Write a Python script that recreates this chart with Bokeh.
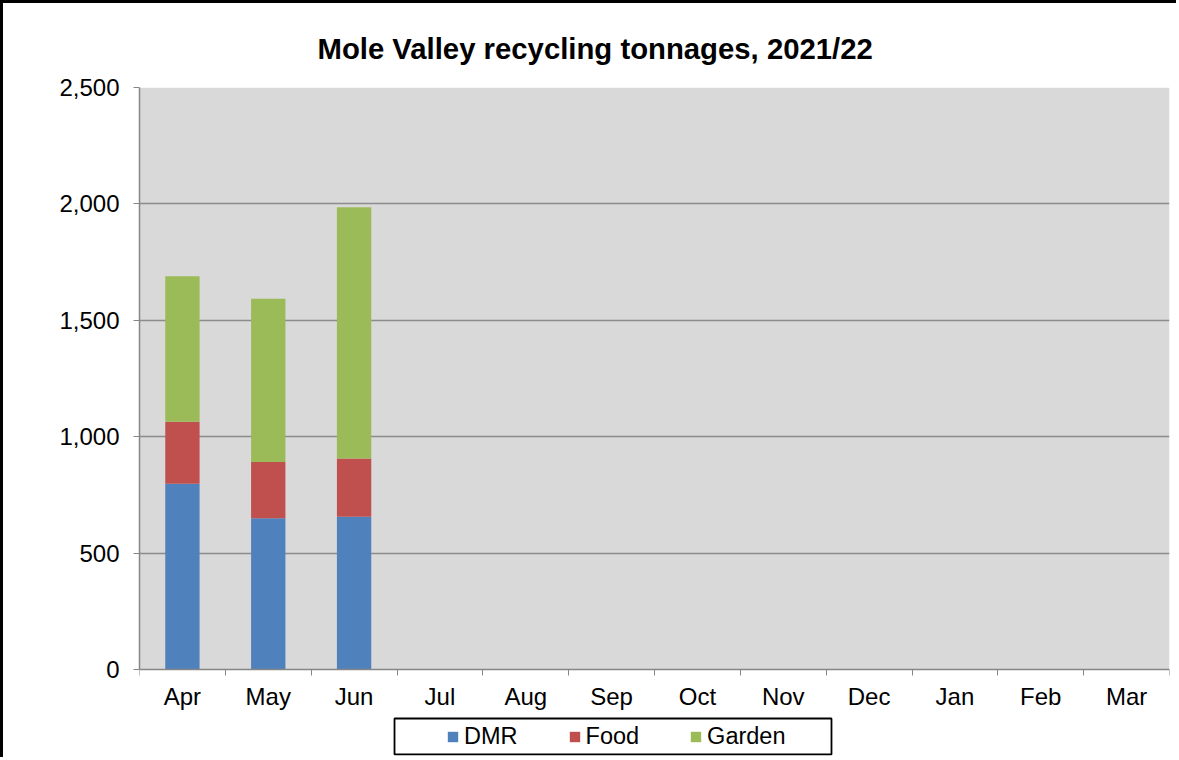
from bokeh.plotting import figure
from bokeh.models import (ColumnDataSource, FixedTicker, NumeralTickFormatter, Range1d,
                          Legend, LegendItem, BoxAnnotation)
from bokeh.embed import file_html
from bokeh.resources import INLINE

# ---- data ----
months = ["Apr", "May", "Jun", "Jul", "Aug", "Sep", "Oct", "Nov", "Dec", "Jan", "Feb", "Mar"]
series = ["DMR", "Food", "Garden"]
dmr = [798, 650, 656]
food = [266, 241, 250]
garden = [625, 701, 1080]
colors = ["#4F81BD", "#C0504D", "#9BBB59"]
y_ticks = [0, 500, 1000, 1500, 2000, 2500]
y_max = 2500
title_text = "Mole Valley recycling tonnages, 2021/22"

FONT = "Liberation Sans"
n = len(dmr)
src = ColumnDataSource(dict(
    x=[i + 0.5 for i in range(n)],
    month=months[:n],
    DMR=dmr, Food=food, Garden=garden,
))

# the frame extends below the value axis so that the legend can sit inside it
p = figure(width=1176, height=757, output_backend="svg", toolbar_location=None,
           x_range=Range1d(0, len(months)), y_range=Range1d(-391, y_max),
           min_border_left=136, min_border_right=10, min_border_top=84, min_border_bottom=0)
p.styles = {"border-left": "3px solid black", "border-top": "3px solid black"}
p.background_fill_color = "white"
p.border_fill_color = "white"
p.outline_line_color = None

# grey plot area (0 .. y_max), drawn beneath the grid
plot_area = BoxAnnotation(left=0, right=len(months), bottom=0, top=y_max,
                          fill_color="#D9D9D9", fill_alpha=1.0, line_color=None,
                          level="underlay")
p.center = [plot_area] + list(p.center)

rs = p.vbar_stack(series, x="x", width=0.4, source=src, color=colors, line_color=None)

# title
p.title.text = title_text
p.title.align = "left"
p.title.offset = 178
p.title.text_font = FONT
p.title.text_font_size = "29.3px"
p.title.text_font_style = "bold"
p.title.text_color = "black"
p.title.standoff = 45

# axes
p.xaxis.fixed_location = 0
p.xaxis.ticker = FixedTicker(ticks=[i + 0.5 for i in range(len(months))],
                             minor_ticks=list(range(len(months) + 1)))
p.xaxis.major_label_overrides = {i + 0.5: m for i, m in enumerate(months)}
p.xaxis.major_tick_line_color = None
p.xaxis.minor_tick_out = 6
p.xaxis.minor_tick_in = 0
p.xaxis.minor_tick_line_color = "#868686"
p.xaxis.axis_line_color = "#868686"
p.xaxis.axis_line_width = 1.5
p.xaxis.major_label_standoff = 8

p.yaxis.bounds = (0, y_max)
p.yaxis.ticker = FixedTicker(ticks=y_ticks)
p.yaxis.formatter = NumeralTickFormatter(format="0,0")
p.yaxis.major_tick_out = 6
p.yaxis.major_tick_in = 0
p.yaxis.minor_tick_line_color = None
p.yaxis.major_tick_line_color = "#868686"
p.yaxis.axis_line_color = "#868686"
p.yaxis.axis_line_width = 1.5
p.yaxis.major_label_standoff = 14

for ax in (p.xaxis, p.yaxis):
    ax.major_label_text_font = FONT
    ax.major_label_text_font_size = "24px"
    ax.major_label_text_color = "black"

p.xgrid.grid_line_color = None
p.ygrid.ticker = FixedTicker(ticks=y_ticks[1:])
p.ygrid.grid_line_color = "#8C8C8C"
p.ygrid.grid_line_width = 1.5

# legend frame and legend
p.add_layout(BoxAnnotation(left=2.971, right=8.062, top=-210.5, bottom=-365.1,
                           fill_alpha=0, line_color="black", line_alpha=1.0, line_width=1.8))
items = [LegendItem(label=s, renderers=[r]) for s, r in zip(series, rs)]
legend = Legend(items=items, orientation="horizontal", location=(307, 10), margin=0,
                padding=0, spacing=50, label_standoff=5,
                glyph_width=13, glyph_height=13,
                border_line_alpha=0, background_fill_alpha=0,
                label_text_font=FONT, label_text_font_size="23.5px", label_text_color="black")
p.add_layout(legend, "center")

open("out.html", "w").write(file_html(p, INLINE))
